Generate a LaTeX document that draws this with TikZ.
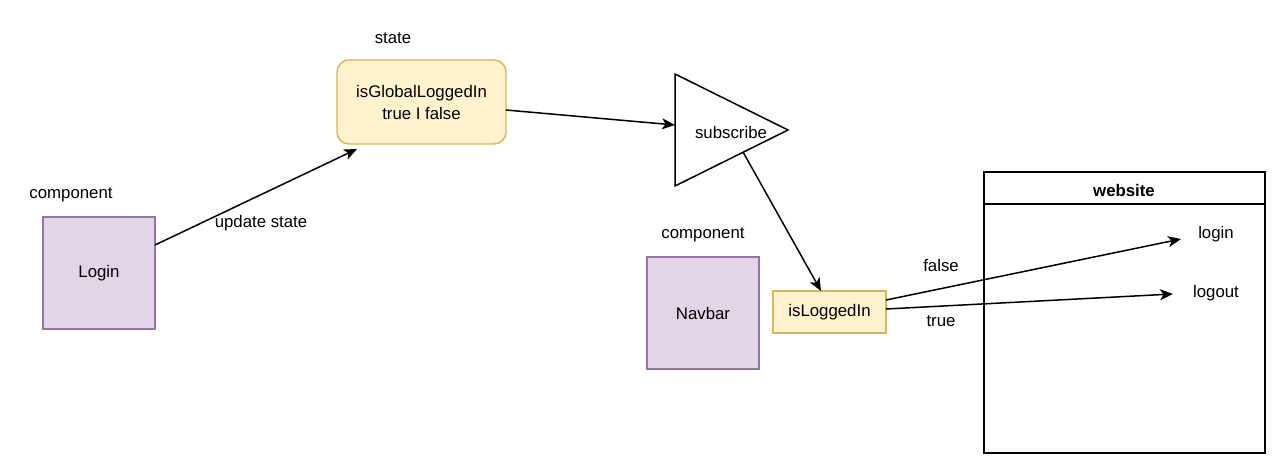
\documentclass[tikz,border=0pt]{standalone}
\usepackage{fontspec}
\setmainfont{Liberation Sans}
\usetikzlibrary{arrows.meta,calc}
\definecolor{purfill}{HTML}{E1D5E7}
\definecolor{purdraw}{HTML}{9673A6}
\definecolor{yelfill}{HTML}{FFF2CC}
\definecolor{yeldraw}{HTML}{D6B656}
\begin{document}
\begin{tikzpicture}[x=1pt,y=-1pt,
  every node/.style={font=\fontsize{16.8}{20}\selectfont, inner sep=0pt},
  lbl/.style={yshift=-2.5pt},
  comp/.style={draw=purdraw, fill=purfill, line width=1.4pt, minimum width=112pt, minimum height=112pt},
  ybox/.style={draw=yeldraw, fill=yelfill, line width=1.4pt},
  conn/.style={line width=1.5pt, -{Stealth[length=13pt,width=11pt,inset=3.5pt]}},
  plain/.style={line width=1.5pt}
]
\useasboundingbox (0,0) rectangle (1280,468);
% Login component
\node[lbl] (lbl1) at (71,192) {component};
\node[comp] (login) at (99,273) {\raisebox{-2pt}{Login}};
% state
\node[lbl] (lblstate) at (393,36) {state};
\node[ybox, rounded corners=12pt, minimum width=169pt, minimum height=84pt, align=center] (state) at (421.5,102) {isGlobalLoggedIn\\[2pt]true I false};
% triangle
\coordinate (tA) at (675,74);
\coordinate (tB) at (788,130);
\coordinate (tC) at (675,186);
\draw[plain, line join=miter] (tA) -- (tB) -- (tC) -- cycle;
\node[lbl] (sub) at (731,130) {subscribe};
% Navbar component
\node[lbl] (lbl2) at (703,232) {component};
\node[comp] (navbar) at (703,313) {\raisebox{-2pt}{Navbar}};
% isLoggedIn
\node[ybox, minimum width=113pt, minimum height=42pt] (isl) at (829.5,312) {\raisebox{-2pt}{isLoggedIn}};
% website
\node[draw, line width=1.5pt, minimum width=281pt, minimum height=281pt] (web) at (1124.5,312.5) {};
\coordinate (hl) at (984,204);
\coordinate (hr) at (1265,204);
\draw[line width=1.5pt] (hl) -- (hr);
\node[lbl, font=\fontsize{16.8}{20}\selectfont\bfseries] (webt) at (1124,188) {website};
\node[lbl] (tlogin) at (1216,232) {login};
\node[lbl] (tlogout) at (1216,291) {logout};
% connectors
\coordinate (s1) at (155,245);
\coordinate (e1) at (357,149);
\draw[conn] (s1) -- (e1);
\node[lbl] (lupd) at (261,221) {update state};
\coordinate (s2) at (506,110);
\coordinate (e2) at (675,125);
\draw[conn] (s2) -- (e2);
\coordinate (s3) at (743,152);
\coordinate (e3) at (821,291);
\draw[conn] (s3) -- (e3);
\coordinate (s4) at (886,300);
\coordinate (e4) at (1181,239);
\draw[conn] (s4) -- (e4);
\node[lbl] (lfalse) at (941,263) {false};
\coordinate (s5) at (886,309);
\coordinate (e5) at (1173,294);
\draw[conn] (s5) -- (e5);
\node[lbl] (ltrue) at (941,319) {true};
\end{tikzpicture}
\end{document}
